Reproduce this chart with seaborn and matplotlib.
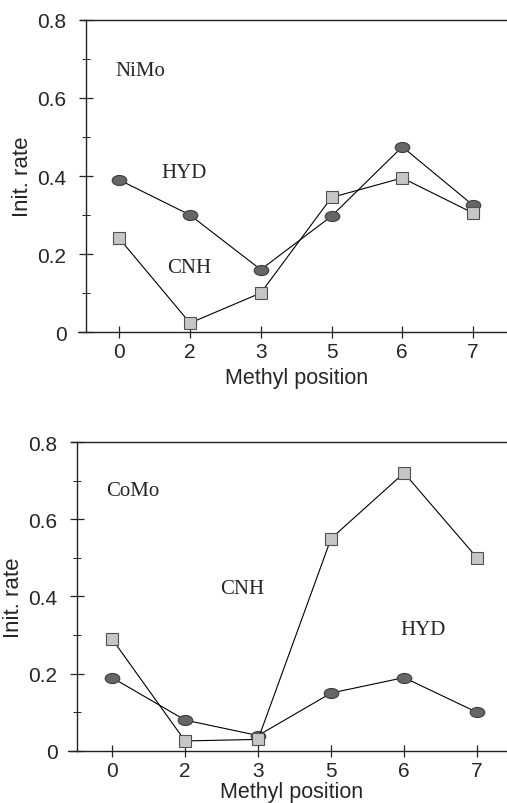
import numpy as np
import pandas as pd
import matplotlib
matplotlib.use("Agg")
import matplotlib.pyplot as plt
from matplotlib.path import Path
from matplotlib.transforms import Affine2D
from matplotlib.ticker import MultipleLocator
import seaborn as sns

# Methyl substitution positions (categorical axis)
positions = ["0", "2", "3", "5", "6", "7"]

# NiMo catalyst initial rates
nimo_hyd = [0.39, 0.30, 0.16, 0.297, 0.475, 0.325]
nimo_cnh = [0.24, 0.023, 0.10, 0.345, 0.395, 0.305]

# CoMo catalyst initial rates
como_hyd = [0.19, 0.08, 0.04, 0.15, 0.19, 0.10]
como_cnh = [0.29, 0.026, 0.03, 0.55, 0.72, 0.50]

sns.set_theme(style="ticks")
plt.rcParams["font.family"] = ["Liberation Sans", "DejaVu Sans"]

ellipse = Path.unit_circle().transformed(Affine2D().scale(1.45, 1.0))

fig = plt.figure(figsize=(5.07, 8.04), dpi=100)
ax_top = fig.add_axes([0.1696, 0.5858, 0.8304, 0.3881])
ax_bot = fig.add_axes([0.1519, 0.0647, 0.8481, 0.3843])

panels = [
    (ax_top, nimo_hyd, nimo_cnh, "NiMo",
     [(-0.06, 0.67), (0.60, 0.41), (0.68, 0.165)], (-0.47, 5.48), 4),
    (ax_bot, como_hyd, como_cnh, "CoMo",
     [(-0.08, 0.675), (3.95, 0.315), (1.48, 0.42)], (-0.48, 5.41), 0.5),
]

serif = ["Liberation Serif", "DejaVu Serif"]

for ax, hyd, cnh, cat, (cat_xy, hyd_xy, cnh_xy), xlim, xpad in panels:
    df = pd.DataFrame({
        "pos": np.arange(len(positions)),
        "HYD": hyd,
        "CNH": cnh,
    })
    sns.lineplot(data=df, x="pos", y="HYD", ax=ax, color="black", lw=0.8,
                 marker=ellipse, markersize=10.5, markerfacecolor="#666666",
                 markeredgecolor="#3c3c3c", markeredgewidth=0.8, zorder=3)
    sns.lineplot(data=df, x="pos", y="CNH", ax=ax, color="black", lw=0.8,
                 marker="s", markersize=9, markerfacecolor="#c6c6c6",
                 markeredgecolor="#505050", markeredgewidth=0.8, zorder=3)

    ax.set_xlim(*xlim)
    ax.set_ylim(0, 0.8)
    ax.set_xticks(np.arange(len(positions)))
    ax.set_xticklabels(positions)
    ax.set_yticks([0, 0.2, 0.4, 0.6, 0.8])
    ax.set_yticklabels(["0", "0.2", "0.4", "0.6", "0.8"])
    ax.yaxis.set_minor_locator(MultipleLocator(0.1))
    ax.tick_params(axis="both", which="major", direction="inout",
                   length=10, width=0.9, labelsize=15, color="#222222")
    ax.tick_params(axis="y", which="major", pad=9)
    ax.tick_params(axis="x", which="major", pad=3, length=9)
    ax.tick_params(axis="y", which="minor", direction="inout",
                   length=6, width=0.7, color="#222222")
    ax.tick_params(axis="x", which="minor", bottom=False)

    for side in ("left", "top", "bottom"):
        ax.spines[side].set_visible(True)
        ax.spines[side].set_color("#222222")
        ax.spines[side].set_linewidth(1.0)
    ax.spines["right"].set_visible(False)
    # baseline and top frame extend slightly left of the y axis
    ax.axhline(0, xmin=-0.02, xmax=0, color="#222222", lw=1.0, clip_on=False)
    ax.axhline(0.8, xmin=-0.015, xmax=0, color="#222222", lw=1.0, clip_on=False)

    ax.set_xlabel("Methyl position", fontsize=15.5, labelpad=xpad)
    ax.set_ylabel("Init. rate", fontsize=16, labelpad=3)

    ax.text(*cat_xy, cat, family=serif, fontsize=15, ha="left", va="center")
    ax.text(*hyd_xy, "HYD", family=serif, fontsize=15, ha="left", va="center")
    ax.text(*cnh_xy, "CNH", family=serif, fontsize=15, ha="left", va="center")

fig.savefig("out.png", dpi=100)
